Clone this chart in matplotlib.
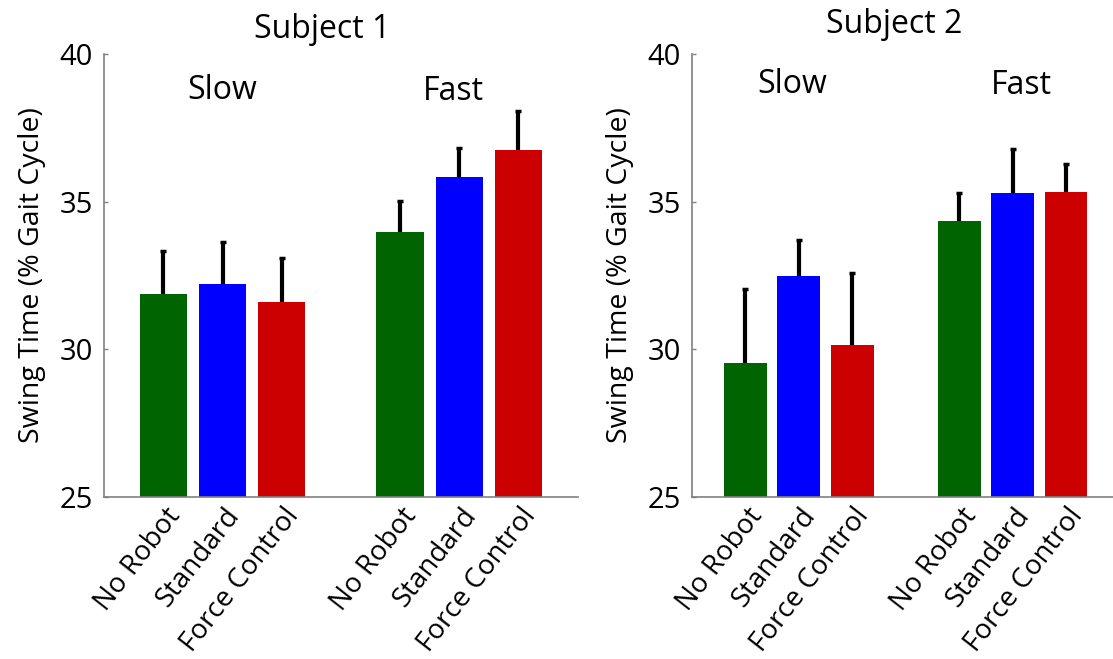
import numpy as np
import matplotlib.pyplot as plt
from matplotlib.transforms import ScaledTranslation

plt.rcParams['font.family'] = ['Open Sans', 'DejaVu Sans']

conditions = ['No Robot', 'Standard', 'Force Control']
bar_colors = ['#006400', '#0000ff', '#cc0000']
speeds = ['Slow', 'Fast']
positions = [1, 2, 3, 5, 6, 7]

# mean swing time and upper error (SD) per subject, slow then fast
s1_mean = [31.87, 32.20, 31.60, 33.98, 35.83, 36.74]
s1_err = [1.47, 1.42, 1.51, 1.06, 0.99, 1.33]
s2_mean = [29.53, 32.50, 30.15, 34.34, 35.28, 35.32]
s2_err = [2.53, 1.20, 2.44, 0.94, 1.51, 0.97]

subjects = ['Subject 1', 'Subject 2']

fig = plt.figure(figsize=(11.13, 6.59), dpi=100)
ax1 = fig.add_axes([0.0937, 0.2458, 0.4253, 0.6722])
ax2 = fig.add_axes([0.6217, 0.2458, 0.3842, 0.6722])

panel_text = [
    # (title x, title y, slow x, slow y, fast x, fast y)
    (3.68, 40.54, 2.0, 38.48, 5.9, 38.45),
    (3.79, 40.71, 1.87, 38.69, 6.17, 38.65),
]

for ax, mean, err, title, pt in zip([ax1, ax2], [s1_mean, s2_mean],
                                    [s1_err, s2_err], subjects, panel_text):
    cols = bar_colors * 2
    ax.bar(positions, np.array(mean) - 25, bottom=25, width=0.8, color=cols)
    _, caps, _ = ax.errorbar(positions, mean,
                             yerr=[np.zeros(len(err)), err], fmt='none',
                             ecolor='black', elinewidth=3, capsize=2.5,
                             capthick=2.5)
    # only the upper half of the error bar is shown
    caps[0].set_visible(False)

    ax.set_xlim(0, 8)
    ax.set_ylim(25, 40)
    ax.set_yticks([25, 30, 35, 40])
    ax.tick_params(axis='y', direction='in', length=3, width=1,
                   color='#808080', labelsize=21, pad=8)
    ax.set_xticks([])
    for s in ['top', 'right']:
        ax.spines[s].set_visible(False)
    for s in ['left', 'bottom']:
        ax.spines[s].set_color('#808080')
        ax.spines[s].set_linewidth(1.2)
    ax.set_ylabel('Swing Time (% Gait Cycle)', fontsize=20.5, labelpad=10)

    ax.text(pt[0], pt[1], title, fontsize=23, ha='center', va='baseline',
            clip_on=False)
    ax.text(pt[2], pt[3], speeds[0], fontsize=23, ha='center', va='baseline')
    ax.text(pt[4], pt[5], speeds[1], fontsize=23, ha='center', va='baseline')

    # rotated condition labels under each bar
    off = ScaledTranslation(12 / 100, -14 / 100, fig.dpi_scale_trans)
    trans = ax.get_xaxis_transform() + off
    for x, lab in zip(positions, conditions * 2):
        ax.text(x, 0, lab, transform=trans, rotation=52, fontsize=20,
                ha='right', va='center', rotation_mode='anchor')

fig.savefig('out.png', dpi=100)
